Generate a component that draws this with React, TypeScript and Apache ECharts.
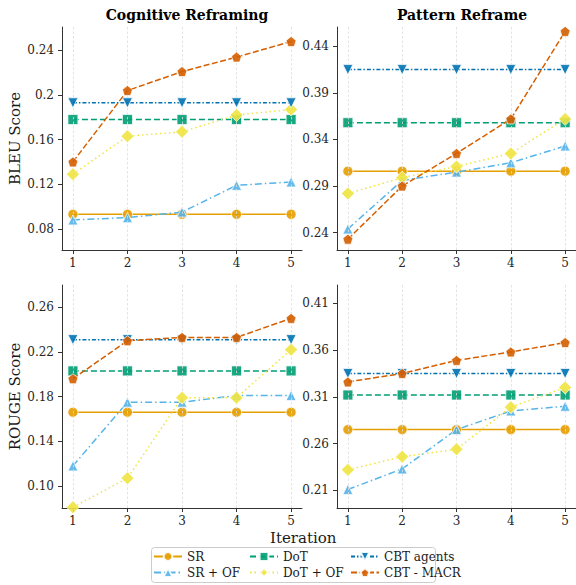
import React, { useEffect, useRef } from "react";
import * as echarts from "echarts";

const iterations = [1, 2, 3, 4, 5];
const seriesNames = ["SR", "SR + OF", "DoT", "DoT + OF", "CBT agents", "CBT - MACR"];

// BLEU - Cognitive Reframing
const bleuCrSR = [0.093, 0.093, 0.093, 0.093, 0.093];
const bleuCrSROF = [0.088, 0.090, 0.095, 0.119, 0.122];
const bleuCrDoT = [0.178, 0.178, 0.178, 0.178, 0.178];
const bleuCrDoTOF = [0.129, 0.163, 0.167, 0.182, 0.187];
const bleuCrCBT = [0.193, 0.193, 0.193, 0.193, 0.193];
const bleuCrMACR = [0.140, 0.204, 0.221, 0.234, 0.248];

// BLEU - Pattern Reframe
const bleuPrSR = [0.306, 0.306, 0.306, 0.306, 0.306];
const bleuPrSROF = [0.244, 0.296, 0.305, 0.315, 0.333];
const bleuPrDoT = [0.358, 0.358, 0.358, 0.358, 0.358];
const bleuPrDoTOF = [0.282, 0.299, 0.311, 0.325, 0.362];
const bleuPrCBT = [0.415, 0.415, 0.415, 0.415, 0.415];
const bleuPrMACR = [0.233, 0.290, 0.325, 0.362, 0.456];

// ROUGE - Cognitive Reframing
const rougeCrSR = [0.166, 0.166, 0.166, 0.166, 0.166];
const rougeCrSROF = [0.118, 0.175, 0.175, 0.181, 0.181];
const rougeCrDoT = [0.203, 0.203, 0.203, 0.203, 0.203];
const rougeCrDoTOF = [0.081, 0.107, 0.179, 0.179, 0.222];
const rougeCrCBT = [0.231, 0.231, 0.231, 0.231, 0.231];
const rougeCrMACR = [0.196, 0.230, 0.233, 0.233, 0.250];

// ROUGE - Pattern Reframe
const rougePrSR = [0.275, 0.275, 0.275, 0.275, 0.275];
const rougePrSROF = [0.211, 0.233, 0.275, 0.295, 0.300];
const rougePrDoT = [0.312, 0.312, 0.312, 0.312, 0.312];
const rougePrDoTOF = [0.232, 0.246, 0.254, 0.299, 0.320];
const rougePrCBT = [0.335, 0.335, 0.335, 0.335, 0.335];
const rougePrMACR = [0.326, 0.335, 0.349, 0.358, 0.368];

// tick labels
const ticksBleuCr = [0.08, 0.12, 0.16, 0.2, 0.24];
const tickLabelsBleuCr = ["0.08", "0.12", "0.16", "0.2", "0.24"];
const ticksBleuPr = [0.24, 0.29, 0.34, 0.39, 0.44];
const tickLabelsBleuPr = ["0.24", "0.29", "0.34", "0.39", "0.44"];
const ticksRougeCr = [0.1, 0.14, 0.18, 0.22, 0.26];
const tickLabelsRougeCr = ["0.10", "0.14", "0.18", "0.22", "0.26"];
const ticksRougePr = [0.21, 0.26, 0.31, 0.36, 0.41];
const tickLabelsRougePr = ["0.21", "0.26", "0.31", "0.36", "0.41"];

const FONT = "DejaVu Serif";
const colors = ["#E69F00", "#56B4E9", "#009E73", "#F0E442", "#0072B2", "#D55E00"];
const dashes: any[] = ["solid", [7, 3, 1.5, 3], [6, 3], [1.5, 3], [4, 2, 1.5, 2], [6, 2.5]];
const symbols = [
  "circle",
  "triangle",
  "rect",
  "diamond",
  "path://M0,0L10,0L5,9Z",
  "path://M5,0L10,3.8L8.1,9.5L1.9,9.5L0,3.8Z",
];
const symbolSizes = [10, 10, 10, 13, 10, 10];

const panels = [
  { data: [bleuCrSR, bleuCrSROF, bleuCrDoT, bleuCrDoTOF, bleuCrCBT, bleuCrMACR], ticks: ticksBleuCr, labels: tickLabelsBleuCr, min: 0.061, max: 0.261 },
  { data: [bleuPrSR, bleuPrSROF, bleuPrDoT, bleuPrDoTOF, bleuPrCBT, bleuPrMACR], ticks: ticksBleuPr, labels: tickLabelsBleuPr, min: 0.2214, max: 0.4607 },
  { data: [rougeCrSR, rougeCrSROF, rougeCrDoT, rougeCrDoTOF, rougeCrCBT, rougeCrMACR], ticks: ticksRougeCr, labels: tickLabelsRougeCr, min: 0.0803, max: 0.2799 },
  { data: [rougePrSR, rougePrSROF, rougePrDoT, rougePrDoTOF, rougePrCBT, rougePrMACR], ticks: ticksRougePr, labels: tickLabelsRougePr, min: 0.1912, max: 0.4296 },
];

const gridPos = [
  { left: 62, top: 27, width: 240, height: 223 },
  { left: 337, top: 27, width: 240, height: 223 },
  { left: 62, top: 285, width: 240, height: 223 },
  { left: 337, top: 285, width: 240, height: 223 },
];

export default function App() {
  const ref = useRef<HTMLDivElement>(null);
  useEffect(() => {
    if (!ref.current) return;
    const chart = echarts.init(ref.current, undefined, { renderer: "svg" });
    const axisColor = "#333333";
    const labelColor = "#262626";

    const xAxis = panels.map((_, i) => ({
      type: "value",
      gridIndex: i,
      min: 0.8,
      max: 5.2,
      axisLine: { show: true, lineStyle: { color: axisColor, width: 1 } },
      axisTick: { show: true, customValues: iterations, length: 4, lineStyle: { color: axisColor } },
      axisLabel: { customValues: iterations, color: labelColor, fontFamily: FONT, fontSize: 12, margin: 7 },
      splitLine: { show: false },
    }));

    const yAxis = panels.map((p, i) => ({
      type: "value",
      gridIndex: i,
      min: p.min,
      max: p.max,
      name: i === 0 ? "BLEU Score" : i === 2 ? "ROUGE Score" : "",
      nameLocation: "middle",
      nameRotate: 90,
      nameGap: 40,
      nameTextStyle: { fontFamily: FONT, fontSize: 15, color: "#1a1a1a" },
      axisLine: { show: true, lineStyle: { color: axisColor, width: 1 } },
      axisTick: { show: true, customValues: p.ticks, length: 4, lineStyle: { color: axisColor } },
      axisLabel: {
        customValues: p.ticks,
        color: labelColor,
        fontFamily: FONT,
        fontSize: 12,
        margin: 8,
        formatter: (v: number) => {
          const idx = p.ticks.findIndex((t) => Math.abs(t - v) < 1e-9);
          return idx >= 0 ? p.labels[idx] : "";
        },
      },
      splitLine: { show: false },
    }));

    const series: any[] = [];
    panels.forEach((p, gi) => {
      series.push({
        type: "line",
        name: "_grid" + gi,
        xAxisIndex: gi,
        yAxisIndex: gi,
        data: [],
        z: 1,
        silent: true,
        markLine: {
          silent: true,
          symbol: "none",
          label: { show: false },
          lineStyle: { color: "#dcdcdc", type: [2.5, 2], width: 0.8 },
          data: iterations.map((v) => ({ xAxis: v })),
        },
      });
      p.data.forEach((vals, si) => {
        series.push({
          type: "line",
          name: seriesNames[si],
          xAxisIndex: gi,
          yAxisIndex: gi,
          data: iterations.map((x, k) => [x, vals[k]]),
          symbol: symbols[si],
          symbolSize: symbolSizes[si],
          showAllSymbol: true,
          z: 2 + si,
          lineStyle: { color: colors[si], width: 1.5, type: dashes[si] },
          itemStyle: { color: colors[si], opacity: 0.9, borderColor: "#ffffff", borderWidth: 0.8 },
        });
      });
    });

    const legendCommon = {
      orient: "vertical",
      top: 550,
      height: 34,
      padding: 0,
      itemWidth: 28,
      itemHeight: 11,
      itemGap: 3,
      textStyle: { fontFamily: FONT, fontSize: 12, color: "#1a1a1a", lineHeight: 13 },
      selectedMode: false,
    };

    chart.setOption({
      animation: false,
      backgroundColor: "#ffffff",
      title: [
        { text: "Cognitive Reframing", left: 182, top: 3, textAlign: "center", textStyle: { fontFamily: FONT, fontSize: 14, fontWeight: "bold", color: "#000" } },
        { text: "Pattern Reframe", left: 457, top: 3, textAlign: "center", textStyle: { fontFamily: FONT, fontSize: 14, fontWeight: "bold", color: "#000" } },
      ],
      grid: gridPos,
      xAxis,
      yAxis,
      legend: [
        { ...legendCommon, left: 153, data: ["SR", "SR + OF"] },
        { ...legendCommon, left: 249, data: ["DoT", "DoT + OF"] },
        { ...legendCommon, left: 350, data: ["CBT agents", "CBT - MACR"] },
      ],
      graphic: [
        { type: "text", left: 270, top: 530, style: { text: "Iteration", fontFamily: FONT, fontSize: 15, fill: "#1a1a1a" } },
        { type: "rect", shape: { x: 151.5, y: 547.5, width: 284, height: 35, r: 3 }, style: { fill: "none", stroke: "#cccccc", lineWidth: 1 }, z: 0 },
      ],
      series,
    });
    return () => chart.dispose();
  }, []);
  return <div ref={ref} style={{ position: "fixed", left: 0, top: 0, width: 576, height: 585 }} />;
}
